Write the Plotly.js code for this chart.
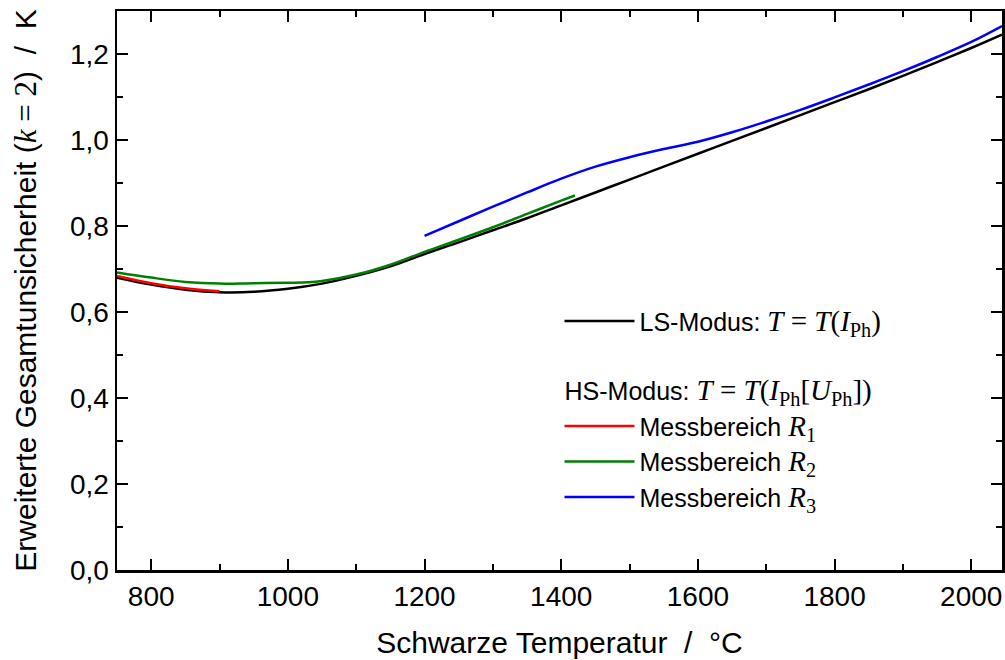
<!DOCTYPE html>
<html>
<head>
<meta charset="utf-8">
<script src="https://cdn.plot.ly/plotly-3.0.1.min.js"></script>
<style>html,body{margin:0;padding:0;background:#fff;}#chart{width:1005px;height:660px;}</style>
</head>
<body>
<div id="chart"></div>
<script>
// LS-Modus (black)
const lsX = [750, 800, 850, 900, 950, 1000, 1050, 1100, 1150, 1200, 1250, 1300, 1350, 1400, 1450, 1500, 1550, 1600, 1650, 1700, 1750, 1800, 1850, 1900, 1950, 2000, 2045];
const lsY = [0.680, 0.664, 0.652, 0.646, 0.647, 0.654, 0.666, 0.684, 0.706, 0.735, 0.762, 0.790, 0.818, 0.848, 0.878, 0.908, 0.938, 0.968, 0.998, 1.028, 1.058, 1.088, 1.118, 1.149, 1.181, 1.214, 1.245];
// HS-Modus, Messbereich R1 (red)
const r1X = [750, 800, 850, 900];
const r1Y = [0.684, 0.667, 0.655, 0.648];
// HS-Modus, Messbereich R2 (green)
const r2X = [750, 800, 850, 900, 950, 1000, 1030, 1050, 1100, 1150, 1200, 1250, 1300, 1350, 1400, 1420];
const r2Y = [0.692, 0.680, 0.670, 0.666, 0.667, 0.668, 0.669, 0.672, 0.687, 0.710, 0.740, 0.768, 0.797, 0.828, 0.859, 0.871];
// HS-Modus, Messbereich R3 (blue)
const r3X = [1200, 1250, 1300, 1350, 1400, 1450, 1500, 1550, 1600, 1650, 1700, 1750, 1800, 1850, 1900, 1950, 2000, 2045];
const r3Y = [0.777, 0.811, 0.845, 0.878, 0.910, 0.938, 0.960, 0.979, 0.996, 1.018, 1.043, 1.070, 1.099, 1.129, 1.160, 1.193, 1.228, 1.265];

const SP = '\u2005';
const M = (s, size) => '<span style="font-family:\'Liberation Serif\', serif;font-size:' + size + 'px">' + s + '</span>';
const EQ = SP + '=' + SP;
const names = {
  ls: 'LS-Modus: ' + M('<i>T</i>' + EQ + '<i>T</i>(<i>I</i><sub>Ph</sub>)', 29),
  hs: 'HS-Modus: ' + M('<i>T</i>' + EQ + '<i>T</i>(<i>I</i><sub>Ph</sub>[<i>U</i><sub>Ph</sub>])', 29),
  r1: 'Messbereich ' + M('<i>R</i><sub>1</sub>', 29),
  r2: 'Messbereich ' + M('<i>R</i><sub>2</sub>', 29),
  r3: 'Messbereich ' + M('<i>R</i><sub>3</sub>', 29)
};

const traces = [
  {x: lsX, y: lsY, name: names.ls, mode: 'lines', line: {color: '#000000', width: 2.5, shape: 'spline'}, legendgroup: 'ls'},
  {x: r1X, y: r1Y, name: names.r1, mode: 'lines', line: {color: '#ff0000', width: 2.5, shape: 'spline'}, legendgroup: 'hs', legendgrouptitle: {text: names.hs, font: {size: 25}}},
  {x: r2X, y: r2Y, name: names.r2, mode: 'lines', line: {color: '#008000', width: 2.5, shape: 'spline'}, legendgroup: 'hs'},
  {x: r3X, y: r3Y, name: names.r3, mode: 'lines', line: {color: '#0000ff', width: 2.5, shape: 'spline'}, legendgroup: 'hs'}
];

const axisCommon = {
  showline: true, linecolor: '#000', linewidth: 2.5, mirror: 'ticks',
  ticks: 'inside', ticklen: 11, tickwidth: 2, tickcolor: '#000',
  showgrid: false, zeroline: false,
  tickfont: {size: 28, color: '#000'}
};

const layout = {
  width: 1005, height: 660,
  margin: {l: 117, r: 3, t: 11, b: 90},
  paper_bgcolor: '#fff', plot_bgcolor: '#fff',
  font: {family: 'Liberation Sans, Arial, sans-serif', color: '#000'},
  separators: ',.',
  showlegend: true,
  legend: {x: 0.5, y: 0.486, xanchor: 'left', yanchor: 'top', bgcolor: 'rgba(0,0,0,0)', borderwidth: 0,
           font: {size: 25}, traceorder: 'grouped', tracegroupgap: 34, itemwidth: 70},
  xaxis: Object.assign({}, axisCommon, {
    range: [750, 2045], dtick: 200, tick0: 0,
    minor: {dtick: 100, ticks: 'inside', ticklen: 6, tickwidth: 2, tickcolor: '#000'},
    title: {text: 'Schwarze Temperatur  /  °C', font: {size: 30}, standoff: 21}
  }),
  yaxis: Object.assign({}, axisCommon, {
    range: [0, 1.3], dtick: 0.2, tick0: 0, tickformat: '.1f',
    minor: {dtick: 0.1, ticks: 'inside', ticklen: 6, tickwidth: 2, tickcolor: '#000'},
    title: {text: 'Erweiterte Gesamtunsicherheit (' + M('<i>k</i>' + EQ + '2', 31) + ')  /  K', font: {size: 30}, standoff: 25}
  })
};

Plotly.newPlot('chart', traces, layout, {displayModeBar: false, staticPlot: true});
</script>
</body>
</html>
